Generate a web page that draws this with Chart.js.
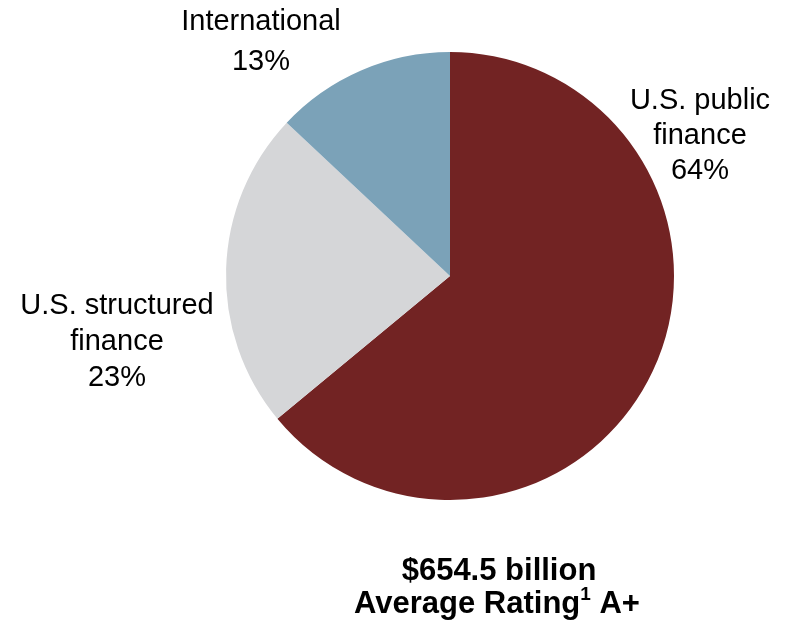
<!DOCTYPE html>
<html lang="en">

<head>
  <meta charset="UTF-8">
  <title> Portfolio by sector </title>
  <style>
    html, body { margin: 0; padding: 0; background: #fff; }
    #wrap { position: relative; width: 791px; height: 627px; }
  </style>
</head>

<body>
  <div id="wrap">
    <canvas id="myChart" width="791" height="627"></canvas>
  </div>
  <script src="https://cdn.jsdelivr.net/npm/chart.js"></script>
  <script>

    // sectors, clockwise from 12 o'clock
    const sectores = ['U.S. public finance', 'U.S. structured finance', 'International']
    const percentuais = [64, 23, 13]
    const cores = ['#722323', '#D5D6D8', '#7BA2B8']

    // label lines and where each block is centred
    const linhasRotulo = [['U.S. public', 'finance'], ['U.S. structured', 'finance'], ['International']]
    const posRotulo = [
      { x: 700, y: 101, lh: 35 },
      { x: 117, y: 306, lh: 36 },
      { x: 261, y: 22, lh: 40 },
    ]

    const rotulos = {
      id: 'rotulos',
      afterDraw(chart) {
        const ctx = chart.ctx
        ctx.save()
        ctx.fillStyle = '#000'
        ctx.textAlign = 'center'
        ctx.textBaseline = 'middle'
        ctx.font = '29px "Liberation Sans", Arial, sans-serif'
        chart.data.datasets[0].data.forEach((v, i) => {
          const p = posRotulo[i]
          const linhas = linhasRotulo[i].concat([v + '%'])
          linhas.forEach((t, k) => ctx.fillText(t, p.x, p.y + k * p.lh))
        })

        // total and rating underneath
        const grande = 'bold 31px "Liberation Sans", Arial, sans-serif'
        const pequeno = 'bold 19px "Liberation Sans", Arial, sans-serif'
        ctx.font = grande
        ctx.textBaseline = 'alphabetic'
        ctx.fillText('$654.5 billion', 499, 580)
        const a = 'Average Rating', b = '1', c = ' A+'
        const wa = ctx.measureText(a).width, wc = ctx.measureText(c).width
        ctx.font = pequeno
        const wb = ctx.measureText(b).width
        let x = 497 - (wa + wb + wc) / 2
        ctx.textAlign = 'left'
        ctx.font = grande
        ctx.fillText(a, x, 613)
        x += wa
        ctx.font = pequeno
        ctx.fillText(b, x, 600)
        x += wb
        ctx.font = grande
        ctx.fillText(c, x, 613)
        ctx.restore()
      }
    }

    new Chart(document.getElementById('myChart'), {
      type: 'pie',
      data: {
        labels: sectores,
        datasets: [{
          data: percentuais,
          backgroundColor: cores,
          borderWidth: 0,
          hoverOffset: 0,
        }]
      },
      options: {
        responsive: false,
        animation: false,
        layout: { padding: { left: 226, right: 117, top: 52, bottom: 127 } },
        plugins: {
          legend: { display: false },
          tooltip: { enabled: false },
        }
      },
      plugins: [rotulos]
    });

  </script>
</body>

</html>
